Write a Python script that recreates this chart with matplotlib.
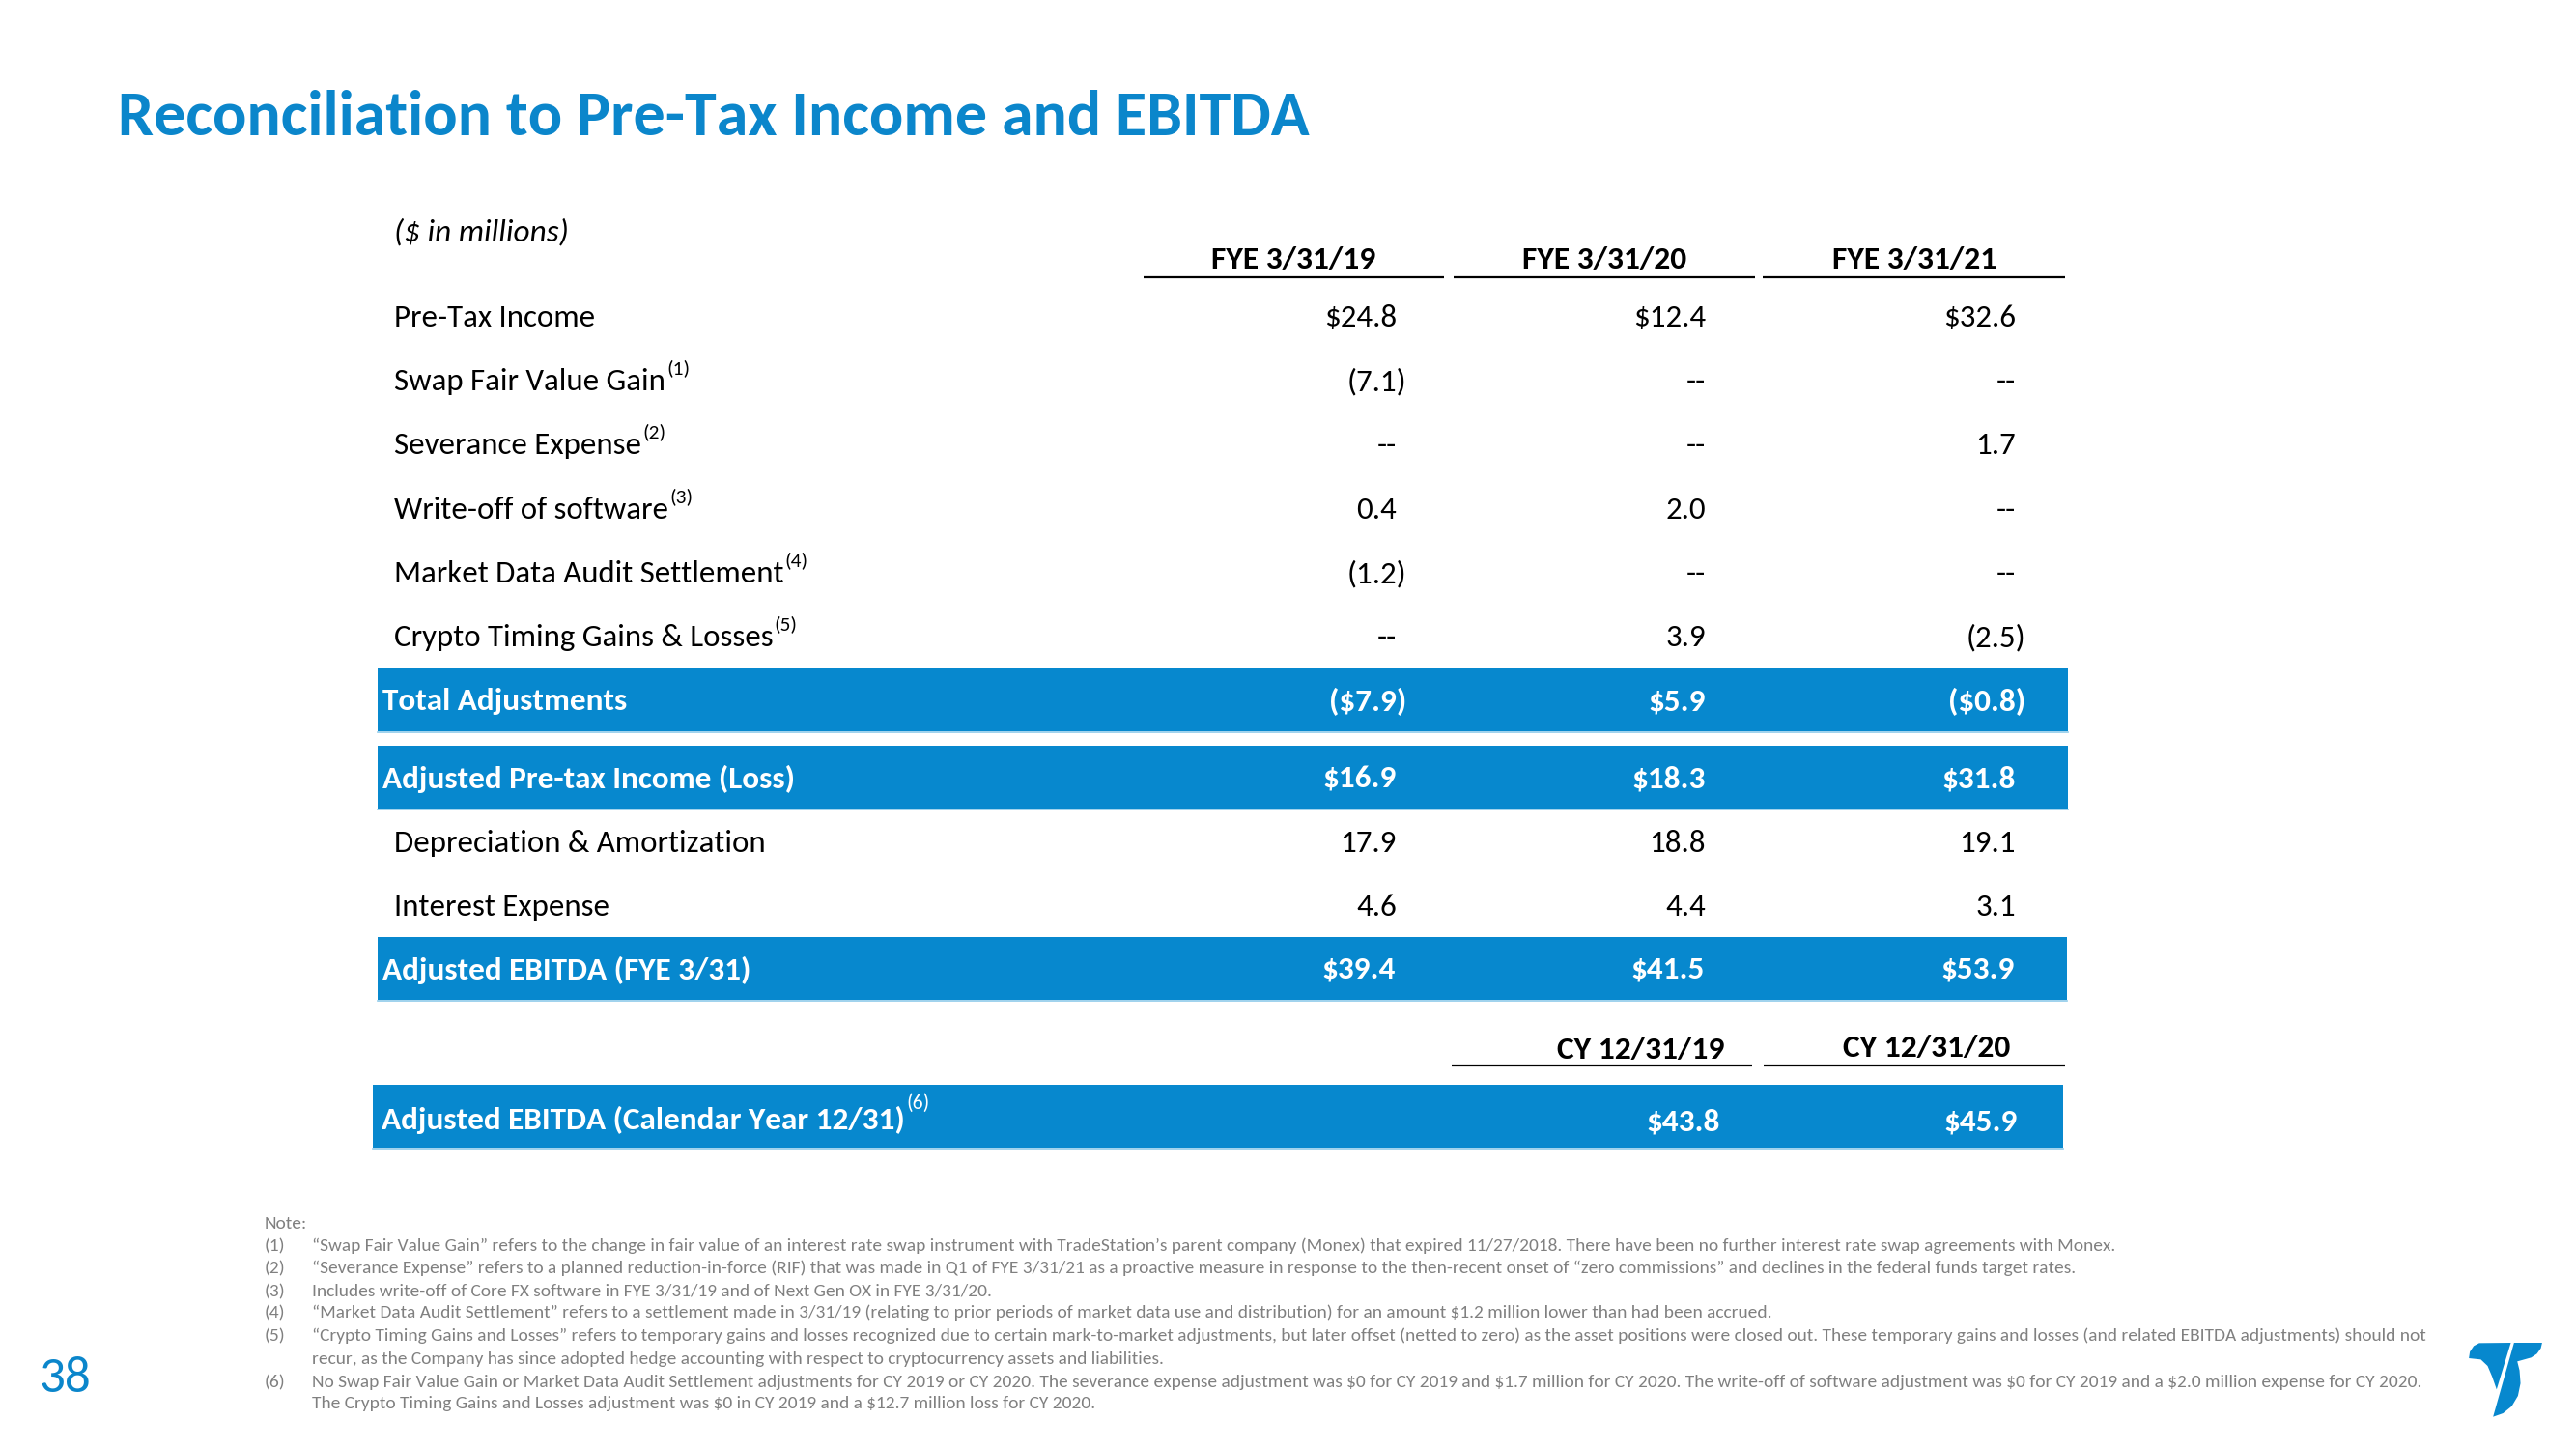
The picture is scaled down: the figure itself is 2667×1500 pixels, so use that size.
import matplotlib
matplotlib.use("Agg")
import matplotlib.pyplot as plt
from matplotlib import font_manager as fm
from matplotlib.patches import Rectangle, Polygon

# ---------------- data ----------------
title = "Reconciliation to Pre-Tax Income and EBITDA"
units = "($ in millions)"
fye_headers = ["FYE 3/31/19", "FYE 3/31/20", "FYE 3/31/21"]
cy_headers = ["CY 12/31/19", "CY 12/31/20"]

detail_labels = ["Pre-Tax Income", "Swap Fair Value Gain", "Severance Expense",
                 "Write-off of software", "Market Data Audit Settlement",
                 "Crypto Timing Gains & Losses"]
detail_marks = ["", "(1)", "(2)", "(3)", "(4)", "(5)"]
fye19 = [24.8, -7.1, None, 0.4, -1.2, None]
fye20 = [12.4, None, None, 2.0, None, 3.9]
fye21 = [32.6, None, 1.7, None, None, -2.5]

total_adj_label = "Total Adjustments"
total_adj = [-7.9, 5.9, -0.8]
adj_pretax_label = "Adjusted Pre-tax Income (Loss)"
adj_pretax = [16.9, 18.3, 31.8]
dna_label = "Depreciation & Amortization"
dna = [17.9, 18.8, 19.1]
interest_label = "Interest Expense"
interest = [4.6, 4.4, 3.1]
adj_ebitda_label = "Adjusted EBITDA (FYE 3/31)"
adj_ebitda = [39.4, 41.5, 53.9]
cy_label = "Adjusted EBITDA (Calendar Year 12/31)"
cy_mark = "(6)"
cy_ebitda = [43.8, 45.9]

note_head = "Note:"
note_nums = ["(1)", "(2)", "(3)", "(4)", "(5)", "", "(6)", ""]
note_lines = [
    "\u201cSwap Fair Value Gain\u201d refers to the change in fair value of an interest rate swap instrument with TradeStation\u2019s parent company (Monex) that expired 11/27/2018. There have been no further interest rate swap agreements with Monex.",
    "\u201cSeverance Expense\u201d refers to a planned reduction-in-force (RIF) that was made in Q1 of FYE 3/31/21 as a proactive measure in response to the then-recent onset of \u201czero commissions\u201d and declines in the federal funds target rates.",
    "Includes write-off of Core FX software in FYE 3/31/19 and of Next Gen OX in FYE 3/31/20.",
    "\u201cMarket Data Audit Settlement\u201d refers to a settlement made in 3/31/19 (relating to prior periods of market data use and distribution) for an amount $1.2 million lower than had been accrued.",
    "\u201cCrypto Timing Gains and Losses\u201d refers to temporary gains and losses recognized due to certain mark-to-market adjustments, but later offset (netted to zero) as the asset positions were closed out. These temporary gains and losses (and related EBITDA adjustments) should not",
    "recur, as the Company has since adopted hedge accounting with respect to cryptocurrency assets and liabilities.",
    "No Swap Fair Value Gain or Market Data Audit Settlement adjustments for CY 2019 or CY 2020. The severance expense adjustment was $0 for CY 2019 and $1.7 million for CY 2020. The write-off of software adjustment was $0 for CY 2019 and a $2.0 million expense for CY 2020.",
    "The Crypto Timing Gains and Losses adjustment was $0 in CY 2019 and a $12.7 million loss for CY 2020.",
]
page_number = "38"

# ---------------- style / layout ----------------
W, H = 2667, 1500
names = {f.name for f in fm.fontManager.ttflist}
FONT = "Carlito" if "Carlito" in names else "Lato"
BLUE = "#0788CE"
TITLE_BLUE = "#0B86CB"
GRAY = "#808080"
DY = 2  # small downward nudge of text to match visual centres

fig = plt.figure(figsize=(W / 100, H / 100), dpi=100)
fig.patch.set_facecolor("white")
ax = fig.add_axes([0, 0, 1, 1])
ax.set_xlim(0, W)
ax.set_ylim(H, 0)
ax.axis("off")
renderer = fig.canvas.get_renderer()


def txt(x, y, s, **kw):
    kw.setdefault("family", FONT)
    kw.setdefault("va", "center")
    return ax.text(x, y + DY, s, parse_math=False, **kw)


def width(s, size, **kw):
    t = txt(0, 0, s, fontsize=size, **kw)
    w = t.get_window_extent(renderer).width
    t.remove()
    return w


def fit(s, target, **kw):
    return 10 * target / width(s, 10, **kw)


title_fs = fit(title, 1233, fontweight="bold")
label_fs = fit(dna_label, 386)
header_fs = fit(fye_headers[0], 170, fontweight="bold")
band_fs = fit(adj_pretax_label, 427, fontweight="bold")
note_fs = fit(note_lines[0], 1874)
unit_fs = fit(units, 180, fontstyle="italic")
page_fs = fit(page_number, 53)


def fmt(v, dollar=False):
    if v is None:
        return "--"
    s = ("$" if dollar else "") + f"{abs(v):.1f}"
    return f"({s})" if v < 0 else s


def value(x_right, y, v, dollar=False, **kw):
    s = fmt(v, dollar)
    size = kw.get("fontsize", label_fs)
    if v is not None and v < 0:
        x_right = x_right + width(")", size, fontweight=kw.get("fontweight", "normal"))
    txt(x_right, y, s, ha="right", **kw)


# title, units
txt(122, 120, title, fontsize=title_fs, fontweight="bold", color=TITLE_BLUE)
txt(408, 238, units, fontsize=unit_fs, fontstyle="italic", color="black")

# FYE headers
col_center = [1339, 1661, 1982]
col_right = [1446, 1766, 2087]
hdr_lines = [(1184, 1495), (1505, 1817), (1825, 2138)]
for c, h, (x0, x1) in zip(col_center, fye_headers, hdr_lines):
    txt(c, 267, h, fontsize=header_fs, fontweight="bold", ha="center", color="black")
    ax.plot([x0, x1], [287, 287], color="black", lw=1.6, solid_capstyle="butt")

# detail rows
row_y = [327, 393, 459, 526, 592, 658]
cols = [fye19, fye20, fye21]
for i, (lab, mk, y) in enumerate(zip(detail_labels, detail_marks, row_y)):
    txt(408, y, lab, fontsize=label_fs, color="black")
    if mk:
        wl = width(lab, label_fs)
        txt(408 + wl + 1, y - 14, mk, fontsize=label_fs * 0.65, color="black")
    for ci, col in enumerate(cols):
        value(col_right[ci], y, col[i], dollar=(i == 0), fontsize=label_fs, color="black")

# blue bands
def band(x0, x1, y0, y1):
    ax.add_patch(Rectangle((x0, y0), x1 - x0, y1 - y0, facecolor=BLUE, edgecolor="none"))
    ax.plot([x0, x1], [y1 + 1, y1 + 1], color="#8FCBEA", lw=1.2)


band_rows = [
    (total_adj_label, total_adj, 692, 757),
    (adj_pretax_label, adj_pretax, 772, 837),
]
for lab, vals, y0, y1 in band_rows:
    band(391, 2141, y0, y1)
    yc = (y0 + y1) / 2
    txt(396, yc, lab, fontsize=band_fs, fontweight="bold", color="white")
    for ci, v in enumerate(vals):
        value(col_right[ci], yc, v, dollar=True, fontsize=band_fs, fontweight="bold", color="white")

for lab, vals, y in [(dna_label, dna, 871), (interest_label, interest, 937)]:
    txt(408, y, lab, fontsize=label_fs, color="black")
    for ci, v in enumerate(vals):
        value(col_right[ci], y, v, fontsize=label_fs, color="black")

band(391, 2140, 970, 1035)
txt(396, 1002, adj_ebitda_label, fontsize=band_fs, fontweight="bold", color="white")
for ci, v in enumerate(adj_ebitda):
    value(col_right[ci] - 1, 1002, v, dollar=True, fontsize=band_fs, fontweight="bold", color="white")

# CY section
cy_center = [1699, 1995]
cy_y = [1085, 1083]
cy_lines = [(1503, 1814), (1826, 2138)]
for c, yy, h, (x0, x1) in zip(cy_center, cy_y, cy_headers, cy_lines):
    txt(c, yy, h, fontsize=header_fs, fontweight="bold", ha="center", color="black")
    ax.plot([x0, x1], [1103, 1103], color="black", lw=1.6, solid_capstyle="butt")

band(386, 2136, 1123, 1188)
txt(395, 1157, cy_label, fontsize=band_fs, fontweight="bold", color="white")
wl = width(cy_label, band_fs, fontweight="bold")
txt(395 + wl + 2, 1140, cy_mark, fontsize=band_fs * 0.65, color="white")
cy_right = [1781, 2089]
for r, v in zip(cy_right, cy_ebitda):
    value(r, 1159, v, dollar=True, fontsize=band_fs, fontweight="bold", color="white")

# notes
txt(274, 1265, note_head, fontsize=note_fs, color=GRAY)
note_y = [1288, 1311, 1335, 1357, 1381, 1405, 1429, 1451]
for n, line, y in zip(note_nums, note_lines, note_y):
    if n:
        txt(274, y, n, fontsize=note_fs, color=GRAY)
    txt(323, y, line, fontsize=note_fs, color=GRAY)

# page number
txt(67, 1425, page_number, fontsize=page_fs, ha="center", color=TITLE_BLUE)

# logo (zoom-space outline converted to figure pixels)
def lp(pts):
    return [(2500 + zx / 2.994, 1370 + zy / 3.0) for zx, zy in pts]

left_piece = [(200, 61), (298, 60), (254, 205), (240, 165), (226, 132), (205, 112),
              (168, 108), (171, 88), (183, 70)]
right_piece = [(308, 60), (395, 60), (391, 77), (379, 94), (361, 106), (336, 113),
               (318, 118), (325, 146), (328, 186), (320, 225), (301, 257), (274, 279),
               (243, 290)]
ax.add_patch(Polygon(lp(left_piece), closed=True, facecolor=BLUE, edgecolor="none"))
ax.add_patch(Polygon(lp(right_piece), closed=True, facecolor=BLUE, edgecolor="none"))

fig.savefig("out.png", dpi=100, facecolor="white")
